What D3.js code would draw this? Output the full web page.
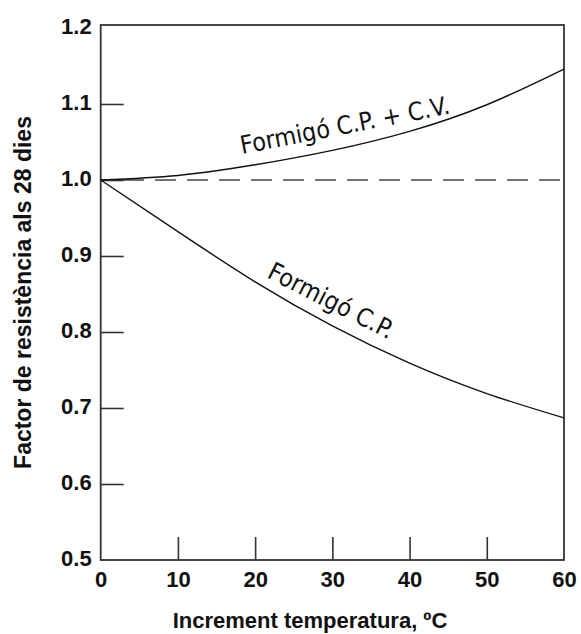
<!DOCTYPE html>
<html>
<head>
<meta charset="utf-8">
<script src="https://cdn.jsdelivr.net/npm/d3@7"></script>
<style>
  body { margin: 0; background: #fff; }
  svg { display: block; }
  .tick text { font-family: "Liberation Sans", Arial, sans-serif; font-weight: bold; font-size: 22px; fill: #111; }
  .axis-title { font-family: "Liberation Sans", Arial, sans-serif; font-weight: bold; fill: #111; }
  .curve-label { font-family: "Liberation Sans Narrow", "DejaVu Sans Condensed", sans-serif; font-size: 25px; fill: #111; }
</style>
</head>
<body>
<div id="chart"></div>
<script>
// temperature increment (ºC)
var temps = [0, 10, 20, 30, 40, 50, 60];
// strength factor at 28 days
var cpcv = [1.000, 1.006, 1.020, 1.039, 1.064, 1.099, 1.146];
var cp = [1.000, 0.932, 0.866, 0.808, 0.759, 0.719, 0.687];
var refLine = [1.0, 1.0];

var xTicks = [0, 10, 20, 30, 40, 50, 60];
var yTicks = [0.5, 0.6, 0.7, 0.8, 0.9, 1.0, 1.1, 1.2];

var svgWidth = 581;
var svgHeight = 634;

var svg = d3.select("#chart")
  .append("svg")
  .attr("width", svgWidth)
  .attr("height", svgHeight);

var xScale = d3.scaleLinear()
  .domain([0, 60])
  .range([100.7, 564]);

var yScale = d3.scaleLinear()
  .domain([0.5, 1.2])
  .range([560, 28]);

var frameTop = 25;

// frame
svg.append("rect")
  .attr("x", xScale(0))
  .attr("y", frameTop)
  .attr("width", xScale(60) - xScale(0))
  .attr("height", yScale(0.5) - frameTop)
  .attr("fill", "none")
  .attr("stroke", "#333")
  .attr("stroke-width", 1.8);

// x axis (ticks inward)
var gX = svg.append("g")
  .attr("transform", "translate(0," + yScale(0.5) + ")")
  .call(d3.axisBottom(xScale).tickValues(xTicks).tickSize(-23).tickPadding(11.5));

// y axis (ticks inward)
var gY = svg.append("g")
  .attr("transform", "translate(" + xScale(0) + ",0)")
  .call(d3.axisLeft(yScale).tickValues(yTicks).tickSize(-23).tickPadding(9)
    .tickFormat(d3.format(".1f")));

[gX, gY].forEach(function(g) {
  g.select(".domain").remove();
  g.selectAll(".tick line")
    .attr("stroke", "#333")
    .attr("stroke-width", 1.6);
});
gX.selectAll(".tick line").filter(function(d) { return d == 0 || d == 60; }).remove();
gY.selectAll(".tick line").filter(function(d) { return d == 0.5 || d == 1.2; }).remove();
gY.selectAll(".tick text").attr("dy", "0.25em");

// dashed reference line at 1.0
svg.append("line")
  .attr("x1", xScale(0))
  .attr("x2", xScale(60))
  .attr("y1", yScale(refLine[0]))
  .attr("y2", yScale(refLine[1]))
  .attr("stroke", "#444")
  .attr("stroke-width", 1.4)
  .attr("stroke-dasharray", "21,11")
  .attr("stroke-dashoffset", 9.7);

var line = d3.line()
  .x(function(d) { return xScale(d[0]); })
  .y(function(d) { return yScale(d[1]); })
  .curve(d3.curveNatural);

[cpcv, cp].forEach(function(series) {
  svg.append("path")
    .datum(temps.map(function(t, i) { return [t, series[i]]; }))
    .attr("d", line)
    .attr("fill", "none")
    .attr("stroke", "#111")
    .attr("stroke-width", 1.4);
});

// curve labels
svg.append("text")
  .attr("class", "curve-label")
  .attr("transform", "translate(242,154) rotate(-11)")
  .text("Formigó C.P. + C.V.");

svg.append("text")
  .attr("class", "curve-label")
  .attr("transform", "translate(266,277) rotate(27)")
  .text("Formigó C.P.");

// axis titles
svg.append("text")
  .attr("class", "axis-title")
  .attr("x", 310)
  .attr("y", 628)
  .attr("text-anchor", "middle")
  .style("font-size", "22px")
  .text("Increment temperatura, ºC");

svg.append("text")
  .attr("class", "axis-title")
  .attr("transform", "translate(31," + (frameTop + yScale(0.5)) / 2 + ") rotate(-90)")
  .attr("text-anchor", "middle")
  .style("font-size", "23px")
  .text("Factor de resistència als 28 dies");
</script>
</body>
</html>
